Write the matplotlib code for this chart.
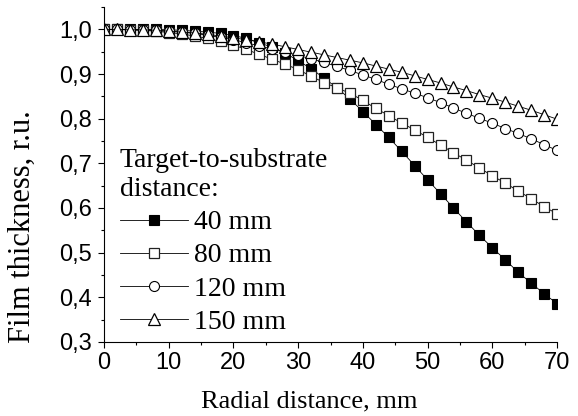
import matplotlib
matplotlib.use('Agg')
import matplotlib.pyplot as plt
from matplotlib.ticker import MultipleLocator, FuncFormatter

# radial distance, mm (every 2 mm)
r = list(range(0, 72, 2))

# film thickness, relative units, for each target-to-substrate distance
t40 = [1.000, 1.000, 1.000, 1.000, 1.000, 0.999, 0.998, 0.996, 0.994, 0.991,
       0.986, 0.980, 0.970, 0.960, 0.947, 0.930, 0.912, 0.891, 0.869, 0.844,
       0.816, 0.787, 0.758, 0.727, 0.695, 0.663, 0.632, 0.600, 0.569, 0.539,
       0.511, 0.484, 0.456, 0.432, 0.408, 0.386]
t80 = [1.000, 1.000, 0.999, 0.998, 0.996, 0.993, 0.990, 0.985, 0.980, 0.973,
       0.965, 0.955, 0.944, 0.933, 0.922, 0.910, 0.895, 0.881, 0.869, 0.857,
       0.841, 0.823, 0.807, 0.790, 0.775, 0.758, 0.741, 0.724, 0.707, 0.690,
       0.672, 0.656, 0.638, 0.621, 0.603, 0.587]
t120 = [1.000, 1.000, 0.999, 0.999, 0.998, 0.996, 0.994, 0.991, 0.987, 0.982,
        0.977, 0.970, 0.963, 0.956, 0.949, 0.942, 0.934, 0.926, 0.917, 0.908,
        0.898, 0.888, 0.877, 0.867, 0.857, 0.847, 0.836, 0.824, 0.812, 0.801,
        0.790, 0.778, 0.767, 0.755, 0.742, 0.729]
t150 = [1.000, 1.000, 0.999, 0.999, 0.998, 0.996, 0.994, 0.992, 0.989, 0.985,
        0.981, 0.977, 0.972, 0.967, 0.961, 0.955, 0.949, 0.943, 0.937, 0.931,
        0.925, 0.918, 0.911, 0.904, 0.896, 0.888, 0.880, 0.871, 0.863, 0.854,
        0.846, 0.837, 0.828, 0.819, 0.809, 0.799]

labels = ['40 mm', '80 mm', '120 mm', '150 mm']

serif = 'Liberation Serif'
sans = 'Liberation Sans'

fig = plt.figure(figsize=(5.78, 4.16), dpi=100)
ax = fig.add_axes([0.18, 0.178, 0.7837, 0.805])

ax.plot(r, t40, '-s', color='black', lw=0.6, ms=6.5, mfc='black', mec='black', mew=0.8, label=labels[0])
ax.plot(r, t80, '-s', color='black', lw=0.6, ms=6.5, mfc='white', mec='#222222', mew=0.9, label=labels[1])
ax.plot(r, t120, '-o', color='black', lw=0.6, ms=7.2, mfc='white', mec='black', mew=0.8, label=labels[2])
ax.plot(r, t150, '-^', color='black', lw=0.6, ms=8.8, mfc='white', mec='black', mew=0.9, label=labels[3])

ax.set_xlim(0, 70)
ax.set_ylim(0.3, 1.05)
ax.xaxis.set_major_locator(MultipleLocator(10))
ax.xaxis.set_minor_locator(MultipleLocator(5))
ax.yaxis.set_major_locator(MultipleLocator(0.1))
ax.yaxis.set_minor_locator(MultipleLocator(0.05))
ax.yaxis.set_major_formatter(FuncFormatter(lambda v, p: ('%.1f' % v).replace('.', ',')))
ax.xaxis.set_major_formatter(FuncFormatter(lambda v, p: '%d' % round(v)))

ax.spines['top'].set_visible(False)
ax.spines['right'].set_visible(False)
ax.tick_params(which='major', direction='out', length=4.5, width=0.8, labelsize=17)
ax.tick_params(which='minor', direction='out', length=2.5, width=0.8)
ax.tick_params(axis='x', which='major', pad=3)
ax.tick_params(axis='y', which='major', pad=4.5)
for lab in ax.get_xticklabels() + ax.get_yticklabels():
    lab.set_family(sans)

ax.set_xlabel('Radial distance, mm', family=serif, fontsize=19)
ax.set_ylabel('Film thickness, r.u.', family=serif, fontsize=22)
ax.xaxis.set_label_coords(0.4525, -0.146)
ax.yaxis.set_label_coords(-0.148, 0.343)

leg = ax.legend(loc='lower left', bbox_to_anchor=(0.035, 0.021), frameon=False,
                title='Target-to-substrate\ndistance:', alignment='left',
                prop={'family': serif, 'size': 20},
                handlelength=2.45, handletextpad=0.2, labelspacing=0.28,
                borderpad=0, borderaxespad=0)
leg.get_title().set_family(serif)
leg.get_title().set_fontsize(20)

fig.savefig('out.png', dpi=100)
